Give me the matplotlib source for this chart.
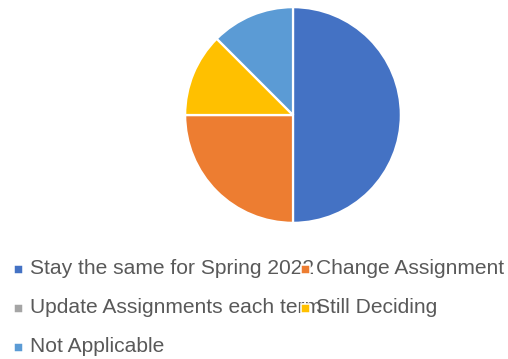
import matplotlib
matplotlib.use('Agg')
import matplotlib.pyplot as plt
from matplotlib.patches import Rectangle

plt.rcParams['font.family'] = ['Liberation Sans', 'DejaVu Sans']

labels = ['Stay the same for Spring 2022', 'Change Assignment',
          'Update Assignments each term', 'Still Deciding', 'Not Applicable']
counts = [4, 2, 0, 1, 1]
colors = ['#4472C4', '#ED7D31', '#A5A5A5', '#FFC000', '#5B9BD5']

W, H = 508, 359
fig = plt.figure(figsize=(W / 100, H / 100), dpi=100)

# pie
cx, cy, r = 293, 115, 110
ax = fig.add_axes([(cx - r) / W, 1 - (cy + r) / H, 2 * r / W, 2 * r / H])
ax.pie(counts, colors=colors, startangle=90, counterclock=False, radius=1,
       wedgeprops=dict(edgecolor='white', linewidth=1.6))
ax.set_xlim(-1.02, 1.02)
ax.set_ylim(-1.02, 1.02)
ax.set_aspect('equal')
ax.axis('off')

# legend laid out in pixel coordinates, two columns
lg = fig.add_axes([0, 0, 1, 1])
lg.set_xlim(0, W)
lg.set_ylim(H, 0)
lg.axis('off')

baselines = [274, 313, 351.5]
col_marker_x = [14, 301]
col_text_x = [30, 316]
for i, (lab, col) in enumerate(zip(labels, colors)):
    row, c = divmod(i, 2)
    y = baselines[row]
    lg.text(col_text_x[c], y, lab, fontsize=15.1, color='#595959',
            va='baseline', ha='left', zorder=2)
    lg.add_patch(Rectangle((col_marker_x[c], y - 8.8), 9.2, 9.2, facecolor=col,
                           edgecolor='white', linewidth=1.1, zorder=3))

fig.savefig('out.png', dpi=100)
